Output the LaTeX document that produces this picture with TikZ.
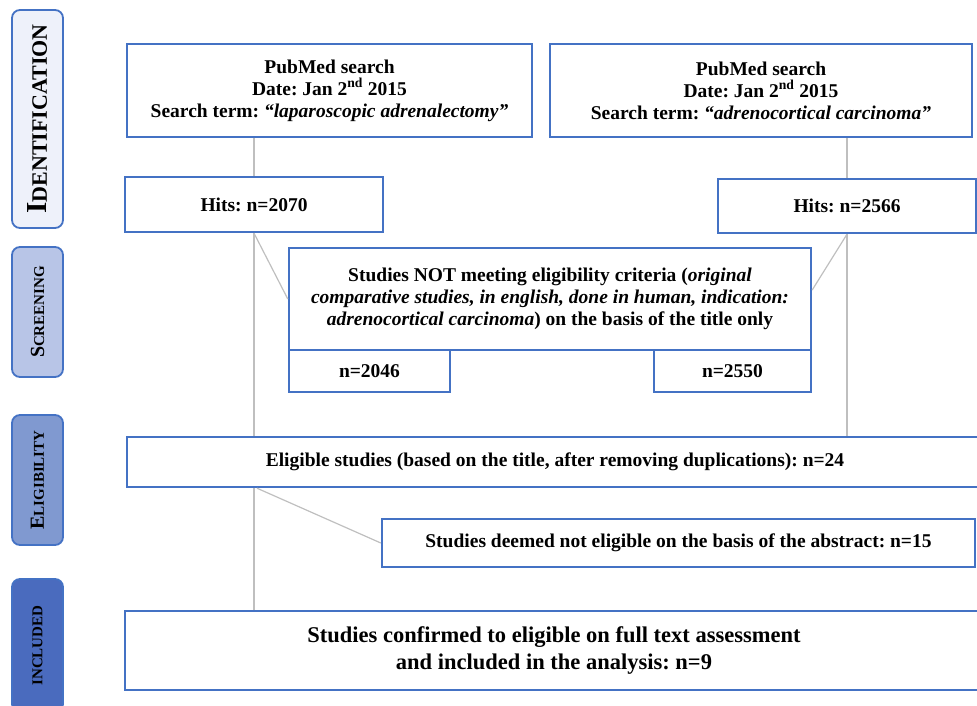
\documentclass[tikz,border=0pt]{standalone}
\usepackage{fontspec}
\setmainfont{Liberation Serif}
\frenchspacing
\definecolor{boxblue}{HTML}{4472C4}
\definecolor{idfill}{HTML}{EEF1FA}
\definecolor{scfill}{HTML}{B8C5E7}
\definecolor{elfill}{HTML}{8099D0}
\definecolor{infill}{HTML}{4A6BBE}
\newcommand{\stagename}[4]{{\fontsize{#3}{#3}\selectfont #1}{\fontsize{#4}{#4}\selectfont #2}}

\begin{document}
\begin{tikzpicture}[x=1pt, y=-1pt,
  box/.style={shape=rectangle, draw=boxblue, line width=2.4pt, fill=white, inner sep=0pt, align=center, font=\bfseries\fontsize{19.5}{22}\selectfont},
  stage/.style={shape=rectangle, rounded corners=8pt, draw=boxblue, line width=1.8pt, rotate=90, minimum height=51pt, inner sep=0pt, font=\bfseries},
  link/.style={draw=black!25, line width=1.2pt}]
\useasboundingbox (0,0) rectangle (977,706);
% stages
\node[stage, fill=idfill, minimum width=218pt] (identification) at (37.5,119) {\stagename{I}{DENTIFICATION}{29}{22}};
\node[stage, fill=scfill, minimum width=130pt] (screening) at (37.5,312) {\stagename{S}{CREENING}{20}{15}};
\node[stage, fill=elfill, minimum width=130pt] (eligibility) at (37.5,480) {\stagename{E}{LIGIBILITY}{20}{15}};
\node[stage, fill=infill, minimum width=133pt] (inclusion) at (37.5,645.5) {\stagename{}{INCLUDED}{15}{15}};
% boxes
\node[box, minimum width=405pt, minimum height=93pt] (search1) at (329.5,90.5) {PubMed search\\Date: Jan 2\textsuperscript{nd} 2015\\Search term: \textit{“laparoscopic adrenalectomy”}};
\node[box, minimum width=422pt, minimum height=93pt] (search2) at (761,90.5) {PubMed search\\Date: Jan 2\textsuperscript{nd} 2015\\Search term: \textit{“adrenocortical carcinoma”}};
\node[box, minimum width=258pt, minimum height=55pt] (hits1) at (254,204.5) {Hits: n=2070};
\node[box, minimum width=258pt, minimum height=54pt] (hits2) at (847,206) {Hits: n=2566};
\node[box, minimum width=522pt, minimum height=102pt] (screen) at (550,299) {Studies NOT meeting eligibility criteria (\textit{original}\\\textit{comparative studies, in english, done in human, indication:}\\\textit{adrenocortical carcinoma}) on the basis of the title only};
\node[box, minimum width=161pt, minimum height=42pt] (excl1) at (369.5,371) {n=2046};
\node[box, minimum width=157pt, minimum height=42pt] (excl2) at (732.5,371) {n=2550};
\node[box, minimum width=856pt, minimum height=50pt] (eligible) at (555,462) {Eligible studies (based on the title, after removing duplications): n=24};
\node[box, minimum width=593pt, minimum height=48pt] (abstract) at (678.5,543) {Studies deemed not eligible on the basis of the abstract: n=15};
\node[box, minimum width=858pt, minimum height=79pt, font=\bfseries\fontsize{22.5}{26.5}\selectfont] (included) at (554,650.5) {Studies confirmed to eligible on full text assessment\\and included in the analysis: n=9};
% links
\draw[link] (hits1.north) -- (hits1.north |- search1.south);
\draw[link] (hits2.north) -- (hits2.north |- search2.south);
\draw[link] (hits1.south) -- (hits1.south |- eligible.north);
\draw[link] (hits2.south) -- (hits2.south |- eligible.north);
\draw[link] (hits1.south) -- (screen.west);
\draw[link] (hits2.south) -- ([yshift=9pt]screen.east);
\draw[link] (hits1.south |- eligible.south) -- (hits1.south |- included.north);
\draw[link] ([xshift=3pt]hits1.south |- eligible.south) -- (abstract.west);
\end{tikzpicture}
\end{document}
